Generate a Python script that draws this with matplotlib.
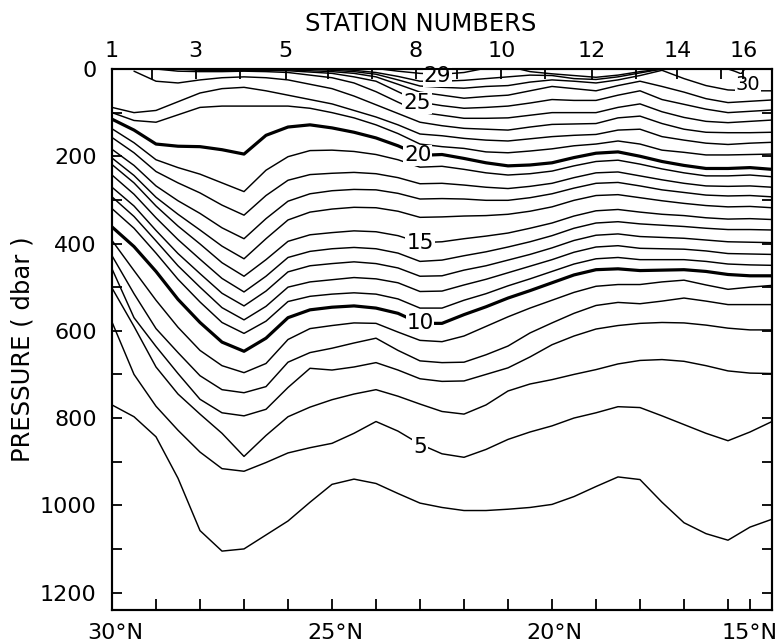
import numpy as np
import matplotlib
matplotlib.use("Agg")
import matplotlib.pyplot as plt
from numpy import nan

# ---------------- data ----------------
LAT = [30, 29.5, 29, 28.5, 28, 27.5, 27, 26.5, 26, 25.5, 25, 24.5, 24, 23.5, 23,
       22.5, 22, 21.5, 21, 20.5, 20, 19.5, 19, 18.5, 18, 17.5, 17, 16.5, 16, 15.5, 15]

T04 = [770, 797, 843, 938, 1058, 1105, 1100, 1068, 1036, 993, 952, 940, 950, 973, 995,
       1005, 1012, 1012, 1009, 1005, 998, 980, 957, 935, 941, 993, 1040, 1065, 1080, 1050, 1032]
T05 = [580, 700, 773, 828, 878, 916, 922, 902, 880, 868, 858, 835, 808, 830, 860,
       882, 890, 872, 849, 832, 818, 800, 788, 774, 776, 795, 815, 835, 852, 832, 808]
T06 = [502, 590, 683, 745, 791, 835, 888, 840, 797, 775, 758, 745, 735, 750, 768,
       785, 791, 770, 738, 722, 712, 700, 689, 676, 668, 666, 670, 680, 692, 697, 698]
T07 = [458, 570, 636, 698, 757, 788, 795, 780, 730, 686, 690, 683, 673, 690, 710,
       716, 715, 700, 685, 660, 632, 612, 596, 588, 583, 581, 582, 587, 594, 598, 598]
T08 = [428, 515, 595, 650, 703, 735, 742, 728, 672, 650, 640, 628, 617, 645, 669,
       673, 672, 655, 635, 605, 582, 560, 542, 535, 538, 532, 525, 532, 540, 540, 540]
T09 = [393, 462, 530, 592, 645, 680, 696, 675, 620, 595, 588, 582, 583, 603, 622,
       625, 612, 590, 568, 548, 530, 512, 498, 494, 494, 488, 484, 495, 505, 500, 496]
T10 = [362, 407, 464, 528, 581, 626, 647, 617, 570, 552, 546, 543, 548, 560, 583,
       583, 563, 545, 525, 508, 490, 472, 460, 458, 462, 461, 460, 464, 471, 474, 474]
T11 = [320, 365, 422, 482, 534, 581, 606, 578, 533, 521, 516, 513, 516, 527, 548,
       548, 530, 515, 497, 481, 464, 447, 435, 432, 437, 437, 437, 441, 447, 449, 450]
T12 = [293, 338, 394, 451, 500, 547, 575, 544, 500, 488, 483, 478, 481, 490, 510,
       509, 495, 482, 467, 452, 437, 420, 408, 405, 411, 412, 413, 417, 423, 424, 425]
T13 = [271, 314, 370, 423, 469, 514, 543, 509, 465, 451, 446, 442, 446, 456, 475,
       474, 461, 451, 438, 425, 410, 393, 381, 378, 384, 386, 388, 392, 396, 397, 398]
T14 = [243, 287, 341, 391, 436, 480, 511, 475, 432, 418, 412, 409, 412, 422, 441,
       438, 428, 419, 408, 396, 382, 365, 353, 350, 355, 358, 361, 365, 368, 368, 369]
T15 = [219, 261, 314, 360, 401, 444, 475, 437, 395, 380, 375, 371, 373, 382, 398,
       396, 389, 383, 376, 365, 353, 337, 325, 322, 328, 333, 336, 341, 344, 343, 345]
T16 = [204, 244, 294, 333, 369, 406, 435, 389, 346, 328, 321, 317, 318, 326, 340,
       339, 337, 336, 333, 326, 316, 301, 290, 288, 295, 302, 308, 313, 316, 315, 318]
T17 = [184, 221, 268, 302, 331, 364, 389, 343, 303, 286, 279, 276, 277, 285, 298,
       297, 298, 301, 301, 295, 286, 273, 262, 260, 268, 277, 283, 289, 291, 290, 293]
T18 = [157, 192, 235, 261, 284, 312, 335, 290, 255, 242, 239, 237, 240, 249, 263,
       262, 266, 271, 274, 269, 262, 249, 238, 236, 245, 254, 262, 268, 269, 268, 271]
T19 = [137, 169, 208, 226, 241, 261, 281, 232, 201, 187, 186, 189, 196, 208, 225,
       223, 230, 238, 243, 240, 234, 222, 212, 209, 218, 229, 238, 245, 245, 243, 247]
T20 = [115, 140, 172, 177, 178, 185, 195, 152, 133, 128, 135, 145, 158, 176, 198,
       196, 205, 215, 222, 220, 215, 203, 193, 190, 200, 212, 221, 228, 228, 226, 230]
T21 = [100, 118, 122, 105, 88, 85, 85, 85, 85, 90, 100, 112, 128, 148, 172,
       178, 182, 190, 192, 188, 183, 176, 172, 165, 172, 186, 191, 197, 197, 196, 195]
T22 = [88, 100, 95, 75, 55, 45, 42, 50, 60, 70, 80, 95, 110, 128, 149,
       153, 159, 163, 165, 160, 155, 152, 150, 140, 138, 155, 163, 170, 173, 170, 168]
T23 = [nan, 5, 28, 32, 25, 20, 18, 20, 25, 35, 45, 62, 82, 102, 122,
       130, 136, 138, 140, 133, 127, 126, 125, 112, 108, 125, 138, 145, 146, 146, 145]
T24 = [nan, nan, 0, 5, 6, 6, 5, 6, 8, 14, 20, 32, 52, 76, 99,
       106, 113, 113, 112, 106, 100, 100, 100, 88, 80, 98, 111, 120, 123, 120, 117]
T25 = [nan, nan, nan, 0, 3, 3, 3, 3, 4, 7, 10, 18, 28, 52, 76,
       84, 90, 88, 85, 78, 70, 72, 72, 60, 50, 70, 81, 92, 100, 97, 94]
T26 = [nan, nan, nan, nan, nan, nan, nan, 0, 2, 4, 6, 10, 18, 35, 53,
       60, 67, 63, 60, 50, 40, 45, 50, 38, 28, 40, 53, 68, 77, 74, 71]
T27 = [nan, nan, nan, nan, nan, nan, nan, nan, nan, 0, 3, 6, 12, 25, 39,
       42, 44, 40, 38, 30, 25, 28, 32, 25, 15, 3, 22, 38, 48, 50, 50]
T28 = [nan, nan, nan, nan, nan, nan, nan, nan, nan, nan, 0, 3, 8, 17, 28,
       28, 26, 22, 18, 14, 15, 22, 24, 18, 9, 0, nan, nan, nan, nan, nan]

T29A_LAT = [23.9, 23.5, 23.0, 22.5, 22.0, 21.6]
T29A = [0, 5, 10, 12, 8, 0]
T29B_LAT = [20.75, 20.5, 20.0, 19.5, 19.0, 18.5, 18.0, 17.5]
T29B = [0, 6, 11, 15, 19, 14, 6, 0]
T30_LAT = [16.0, 15.85, 15.7, 15.62]
T30 = [0, 5, 11, 0]

BOLD_TEMPS = [10, 20]

STATION_LAT = [30.0, 29.1, 28.1, 27.1, 26.05, 25.1, 24.1, 23.1, 22.15, 21.15,
               20.15, 19.1, 18.1, 17.15, 16.15, 15.65]
STATION_NUM = list(range(1, 17))
STATION_SHOWN = [1, 3, 5, 8, 10, 12, 14, 16]

LAT_TICKS = [29, 28, 27, 26, 25, 24, 23, 22, 21, 20, 19, 18, 17, 16, 15.5]
LAT_LABEL_POS = [29.93, 24.93, 19.95, 15.5]
LAT_LABEL_TXT = ["30°N", "25°N", "20°N", "15°N"]

P_MAJOR = [0, 200, 400, 600, 800, 1000, 1200]
P_MINOR = [100, 300, 500, 700, 900, 1100]

LABEL_TXT = ["5", "10", "15", "20", "25", "29", "30"]
LABEL_LAT = [23.0, 23.0, 23.0, 23.05, 23.07, 22.6, 15.55]
LABEL_P = [866, 583, 399, 198, 78, 16, 35]

# ---------------- figure ----------------
ISOTHERMS = {4: T04, 5: T05, 6: T06, 7: T07, 8: T08, 9: T09, 10: T10, 11: T11,
             12: T12, 13: T13, 14: T14, 15: T15, 16: T16, 17: T17, 18: T18,
             19: T19, 20: T20, 21: T21, 22: T22, 23: T23, 24: T24, 25: T25,
             26: T26, 27: T27, 28: T28}

plt.rcParams["font.family"] = ["DejaVu Sans"]
fig = plt.figure(figsize=(7.8, 6.44), dpi=100)
W, H = 780.0, 644.0
ax = fig.add_axes([112 / W, 1 - 610 / H, 660 / W, 541 / H])

for t, depths in ISOTHERMS.items():
    lw = 2.3 if t in BOLD_TEMPS else 1.05
    ax.plot(LAT, depths, color="black", lw=lw, solid_capstyle="round",
            solid_joinstyle="round", zorder=2)
for la, de in [(T29A_LAT, T29A), (T29B_LAT, T29B), (T30_LAT, T30)]:
    ax.plot(la, de, color="black", lw=1.05, solid_joinstyle="round", zorder=2)

for s, la, p in zip(LABEL_TXT, LABEL_LAT, LABEL_P):
    fs = 14 if s == "30" else 15.5
    ax.text(la, p, s, ha="center", va="center", fontsize=fs, zorder=5,
            bbox=dict(facecolor="white", edgecolor="none", pad=0.6))

ax.set_xlim(30, 15)
ax.set_ylim(1240, 0)

for sp in ax.spines.values():
    sp.set_linewidth(1.5)

ax.set_yticks(P_MAJOR)
ax.set_yticklabels([str(v) for v in P_MAJOR])
ax.set_yticks(P_MINOR, minor=True)
ax.tick_params(axis="y", which="both", direction="in", length=7, width=1.3,
               left=True, right=True, labelsize=16, pad=11)

ax.set_xticks(LAT_TICKS)
ax.set_xticklabels([""] * len(LAT_TICKS))
ax.tick_params(axis="x", which="both", direction="in", length=8, width=1.3,
               bottom=True, top=False)
xtr = ax.get_xaxis_transform()
for pos, txt in zip(LAT_LABEL_POS, LAT_LABEL_TXT):
    ax.text(pos, -0.043, txt, transform=xtr, ha="center", va="center",
            fontsize=16, clip_on=False)

ax2 = ax.twiny()
ax2.set_xlim(ax.get_xlim())
ax2.set_xticks(STATION_LAT)
ax2.set_xticklabels([str(n) if n in STATION_SHOWN else "" for n in STATION_NUM])
ax2.tick_params(axis="x", direction="in", length=7, width=1.3, labelsize=16, pad=6)
for sp in ax2.spines.values():
    sp.set_linewidth(1.5)

fig.text(421 / W, 1 - 24 / H, "STATION NUMBERS", ha="center", va="center", fontsize=17.5)
fig.text(23 / W, 1 - 349 / H, "PRESSURE ( dbar )", rotation=90, ha="center",
         va="center", fontsize=17.5)

fig.savefig("out.png", dpi=100, facecolor="white")
